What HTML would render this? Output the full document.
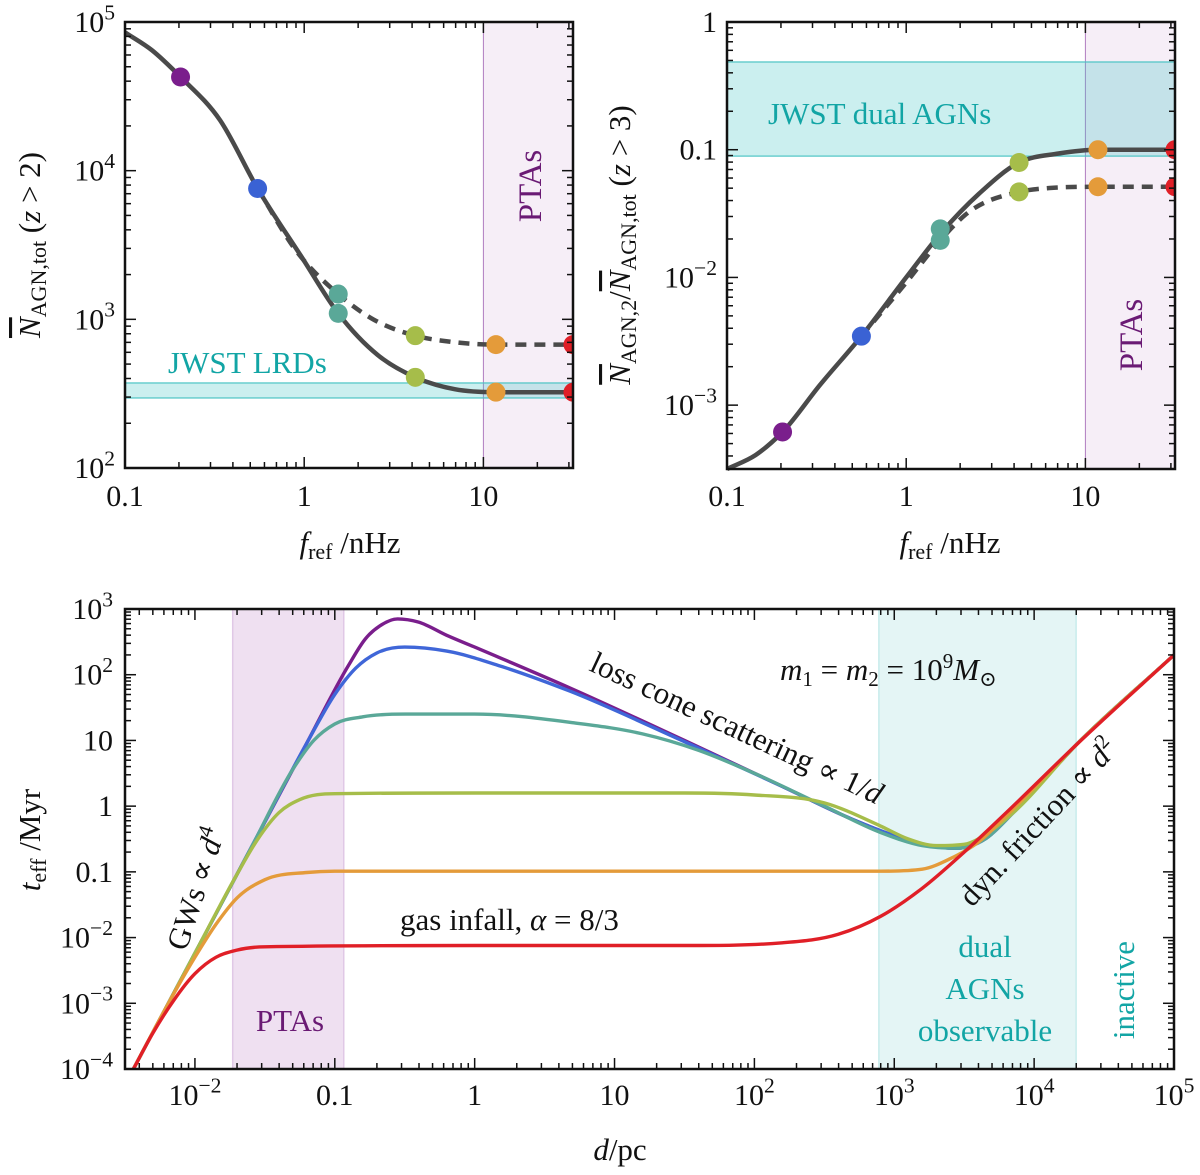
<!DOCTYPE html>
<html><head><meta charset="utf-8">
<style>
html,body{margin:0;padding:0;background:#fff;}
svg{display:block;}
svg text{font-family:"Liberation Serif","DejaVu Serif",serif;}
</style></head>
<body>
<svg id="fig" width="1200" height="1175" viewBox="0 0 1200 1175" xmlns="http://www.w3.org/2000/svg" font-family="Liberation Serif, serif">
<g id="g-top-left"></g>
<g id="g-top-right"></g>
<g id="g-bottom"></g>
</svg>
<script>
// ---------- Top-left data (log10 f/nHz, log10 N) ----------
const tlSolidX = [-1.0,-0.85,-0.69,-0.47,-0.26,-0.02,0.19,0.41,0.62,0.84,1.07,1.5];
const tlSolidY = [4.93,4.81,4.63,4.34,3.88,3.43,3.04,2.76,2.61,2.53,2.51,2.51];
const tlDashX = [-0.26,-0.05,0.19,0.37,0.62,0.81,1.07,1.5];
const tlDashY = [3.88,3.47,3.17,3.01,2.89,2.85,2.83,2.83];
const tlDotX = [-0.69,-0.26,0.19,0.19,0.62,0.62,1.07,1.07,1.5,1.5];
const tlDotY = [4.63,3.88,3.17,3.04,2.89,2.61,2.83,2.51,2.83,2.51];
const tlDotC = ["#7a1e8c","#3a62d4","#5aa898","#5aa898","#a6bd4a","#a6bd4a","#e49b3a","#e49b3a","#e01f27","#e01f27"];
const tlBand = [2.471, 2.572];
const tlYTicks = ["10^2","10^3","10^4","10^5"];
const tlYTickVals = [2,3,4,5];

// ---------- Top-right data ----------
const trSolidX = [-1.0,-0.84,-0.69,-0.48,-0.25,0.0,0.19,0.41,0.63,0.85,1.07,1.5];
const trSolidY = [-3.5,-3.39,-3.21,-2.84,-2.46,-2.0,-1.66,-1.34,-1.10,-1.03,-1.0,-1.0];
const trDashX = [-0.25,0.0,0.19,0.33,0.63,0.8,1.07,1.5];
const trDashY = [-2.46,-2.04,-1.71,-1.51,-1.33,-1.30,-1.29,-1.29];
const trDotX = [-0.69,-0.25,0.19,0.19,0.63,0.63,1.07,1.07,1.5,1.5];
const trDotY = [-3.21,-2.46,-1.62,-1.71,-1.10,-1.33,-1.0,-1.29,-1.0,-1.29];
const trDotC = tlDotC;
const trBand = [-1.05, -0.313];
const trYTicks = ["10^-3","10^-2","0.1","1"];
const trYTickVals = [-3,-2,-1,0];

const topXTicks = ["0.1","1","10"];
const topXTickVals = [-1,0,1];

// ---------- Bottom data (log10 d/pc, log10 t/Myr) ----------
const purpleX = [-2.44,-2.0,-1.6,-1.2,-0.9,-0.78,-0.68,-0.55,-0.4,-0.2,0.0,0.68,1.5,2.2,2.7,3.0,3.2,3.45,3.65,3.85,4.3,5.0];
const purpleY = [-4.0,-2.24,-0.64,0.96,2.15,2.55,2.74,2.85,2.80,2.6,2.42,1.8,1.0,0.3,-0.2,-0.45,-0.58,-0.64,-0.5,-0.1,0.93,2.3];
const blueX = [-2.44,-2.0,-1.6,-1.2,-1.0,-0.85,-0.7,-0.5,-0.2,0.2,0.68,1.5,2.2,2.7,3.0,3.2,3.45,3.65,3.85,4.3,5.0];
const blueY = [-4.0,-2.24,-0.64,0.96,1.7,2.1,2.33,2.42,2.36,2.12,1.75,0.98,0.3,-0.2,-0.45,-0.58,-0.64,-0.5,-0.1,0.93,2.3];
const tealX = [-2.44,-2.0,-1.6,-1.3,-1.15,-1.0,-0.8,-0.5,0.0,0.7,1.2,1.6,2.0,2.5,2.9,3.2,3.45,3.65,3.85,4.3,5.0];
const tealY = [-4.0,-2.24,-0.64,0.56,1.0,1.25,1.36,1.4,1.4,1.27,1.1,0.85,0.5,0.0,-0.4,-0.6,-0.64,-0.5,-0.1,0.93,2.3];
const greenX = [-2.44,-2.0,-1.7,-1.55,-1.4,-1.25,-1.0,0.0,1.5,2.0,2.5,2.9,3.1,3.3,3.5,3.7,3.85,4.3,5.0];
const greenY = [-4.0,-2.24,-1.04,-0.5,-0.1,0.1,0.19,0.2,0.2,0.17,0.05,-0.3,-0.5,-0.6,-0.58,-0.36,-0.1,0.93,2.3];
const orangeX = [-2.44,-2.2,-2.0,-1.85,-1.7,-1.5,-1.2,-1.0,1.0,2.9,3.2,3.4,3.6,3.8,4.3,5.0];
const orangeY = [-4.0,-3.04,-2.3,-1.8,-1.4,-1.12,-1.01,-0.99,-0.99,-0.99,-0.96,-0.8,-0.55,-0.15,0.93,2.3];
const redX = [-2.44,-2.3,-2.15,-2.0,-1.85,-1.7,-1.5,0.0,1.5,2.2,2.6,2.9,3.2,3.5,3.8,4.3,5.0];
const redY = [-4.0,-3.45,-2.95,-2.55,-2.3,-2.19,-2.14,-2.12,-2.12,-2.08,-1.95,-1.68,-1.25,-0.7,-0.1,0.93,2.3];
const botSeriesNames = ["purple","blue","teal","green","orange","red"];
const botXTicks = ["10^-2","0.1","1","10","10^2","10^3","10^4","10^5"];
const botXTickVals = [-2,-1,0,1,2,3,4,5];
const botYTicks = ["10^-4","10^-3","10^-2","0.1","1","10","10^2","10^3"];
const botYTickVals = [-4,-3,-2,-1,0,1,2,3];
const ptaBand = [-1.73,-0.936];
const dualBand = [2.89,4.3];

const NS="http://www.w3.org/2000/svg";
function el(parent,tag,attrs){const e=document.createElementNS(NS,tag);for(const k in attrs)e.setAttribute(k,attrs[k]);parent.appendChild(e);return e;}
function smooth(pts){
  const n=pts.length, sec=[], m=[];
  for(let i=0;i<n-1;i++) sec.push((pts[i+1][1]-pts[i][1])/(pts[i+1][0]-pts[i][0]));
  for(let i=0;i<n;i++){
    if(i==0) m.push(sec[0]);
    else if(i==n-1) m.push(sec[n-2]);
    else {
      const a=sec[i-1],b=sec[i];
      if(a*b<=0) m.push(0);
      else { const h0=pts[i][0]-pts[i-1][0],h1=pts[i+1][0]-pts[i][0]; m.push((a*h1+b*h0)/(h0+h1)); }
    }
  }
  for(let i=0;i<n-1;i++){
    const s=sec[i];
    if(s===0){m[i]=0;m[i+1]=0;continue;}
    const a=m[i]/s,b=m[i+1]/s,h=a*a+b*b;
    if(h>9){const t=3/Math.sqrt(h);m[i]=t*a*s;m[i+1]=t*b*s;}
  }
  let d="M"+pts[0][0].toFixed(1)+","+pts[0][1].toFixed(1);
  for(let i=0;i<n-1;i++){
    const h=pts[i+1][0]-pts[i][0];
    d+=" C"+(pts[i][0]+h/3).toFixed(1)+","+(pts[i][1]+m[i]*h/3).toFixed(1)+" "+(pts[i+1][0]-h/3).toFixed(1)+","+(pts[i+1][1]-m[i+1]*h/3).toFixed(1)+" "+pts[i+1][0].toFixed(1)+","+pts[i+1][1].toFixed(1);
  }
  return d;
}
function tickText(parent,label,x,y,anchor,size){
  const t=el(parent,"text",{x:x,y:y,"text-anchor":anchor,"font-size":size,fill:"#111"});
  
  
  if(label.startsWith("10^")){
    t.appendChild(document.createTextNode("10"));
    const s=el(t,"tspan",{dy:-size*0.42,"font-size":size*0.72});
    s.textContent=label.slice(3).replace("-","\u2212");
  } else t.textContent=label;
  return t;
}
function frame(g,x0,x1,y0,y1,xmin,xmax,ymin,ymax,major,minorX,minorY){
  const sx=v=>x0+(v-xmin)/(xmax-xmin)*(x1-x0);
  const sy=v=>y1-(v-ymin)/(ymax-ymin)*(y1-y0);
  const ticks=el(g,"g",{stroke:"#111","stroke-width":1.5});
  
  
  for(let dd=Math.floor(xmin);dd<=Math.ceil(xmax);dd++){
    for(let m=1;m<=9;m++){
      const v=dd+Math.log10(m); if(v<xmin-1e-6||v>xmax+1e-6)continue;
      const L=m==1?major:minorX;
      el(ticks,"line",{x1:sx(v),x2:sx(v),y1:y1,y2:y1-L});
      el(ticks,"line",{x1:sx(v),x2:sx(v),y1:y0,y2:y0+L});
    }
  }
  for(let dd=Math.floor(ymin);dd<=Math.ceil(ymax);dd++){
    for(let m=1;m<=9;m++){
      const v=dd+Math.log10(m); if(v<ymin-1e-6||v>ymax+1e-6)continue;
      const L=m==1?major:minorY;
      el(ticks,"line",{y1:sy(v),y2:sy(v),x1:x0,x2:x0+L});
      el(ticks,"line",{y1:sy(v),y2:sy(v),x1:x1,x2:x1-L});
    }
  }
  const r=el(g,"rect",{x:x0,y:y0,width:x1-x0,height:y1-y0,fill:"none",stroke:"#111","stroke-width":2.5});
  
  
  return [sx,sy];
}

function topPanel(gid,x0,x1,y0,y1,ymin,ymax,band,solidX,solidY,dashX,dashY,dotX,dotY,dotC,yT,yTV){
  const g=document.getElementById(gid);
  const sx=v=>x0+(v+1)/2.5*(x1-x0);
  const sy=v=>y1-(v-ymin)/(ymax-ymin)*(y1-y0);
  const pta=el(g,"rect",{x:sx(1),y:y0,width:x1-sx(1),height:y1-y0,fill:"#f6eef7"});
  
  
  const ptaL=el(g,"line",{x1:sx(1),x2:sx(1),y1:y0,y2:y1,stroke:"#b07cc0","stroke-width":1});
  
  
  const jb=el(g,"rect",{x:x0,y:sy(band[1]),width:x1-x0,height:sy(band[0])-sy(band[1]),fill:"rgba(64,196,196,0.27)",stroke:"#4cc4c4","stroke-width":1.2});
  
  
  const ds=el(g,"path",{d:smooth(dashX.map((v,i)=>[sx(v),sy(dashY[i])])),fill:"none",stroke:"#4a4a4a","stroke-width":4.5,"stroke-dasharray":"11,8","stroke-linejoin":"round"});
  
  
  const so=el(g,"path",{d:smooth(solidX.map((v,i)=>[sx(v),sy(solidY[i])])),fill:"none",stroke:"#4a4a4a","stroke-width":4.5,"stroke-linejoin":"round"});
  
  
  const clip=el(g,"clipPath",{id:gid+"-clip"});
  el(clip,"rect",{x:x0,y:y0-10,width:x1-x0+1,height:y1-y0+20});
  const dots=el(g,"g",{"clip-path":"url(#"+gid+"-clip)"});
  dotX.forEach((v,i)=>{
    const c=el(dots,"circle",{cx:sx(v),cy:sy(dotY[i]),r:9.5,fill:dotC[i]});
    
    
  });
  frame(g,x0,x1,y0,y1,-1,1.5,ymin,ymax,11,6,6);
  topXTickVals.forEach((v,i)=>tickText(g,topXTicks[i],sx(v),506,"middle",30));
  yTV.forEach((v,i)=>tickText(g,yT[i],x0-10,sy(v)+10,"end",30));
  return [sx,sy];
}
topPanel("g-top-left",125,573,22,468,2,5,tlBand,tlSolidX,tlSolidY,tlDashX,tlDashY,tlDotX,tlDotY,tlDotC,tlYTicks,tlYTickVals);
topPanel("g-top-right",727,1175,22,469,-3.5,0,trBand,trSolidX,trSolidY,trDashX,trDashY,trDotX,trDotY,trDotC,trYTicks,trYTickVals);
</script>
<script>
(function(){
const gl=document.getElementById("g-top-left");
const gr=document.getElementById("g-top-right");
function txt(g,name,x,y,s,fill,content,extra){const t=document.createElementNS(NS,"text");t.setAttribute("x",x);t.setAttribute("y",y);t.setAttribute("font-size",s);t.setAttribute("fill",fill);for(const k in (extra||{}))t.setAttribute(k,extra[k]);t.innerHTML=content;


g.appendChild(t);return t;}
txt(gl,"band-label-jwst-lrds",168,373,31,"#12a5a5","JWST LRDs");
txt(gl,"band-label-ptas",0,0,33,"#6a1a74","PTAs",{transform:"translate(541,186) rotate(-90)","text-anchor":"middle"});
txt(gr,"band-label-jwst-dual",768,124,31,"#12a5a5","JWST dual AGNs");
txt(gr,"band-label-ptas",0,0,33,"#6a1a74","PTAs",{transform:"translate(1142,335) rotate(-90)","text-anchor":"middle"});
txt(gl,"x-axis-title",350,553,31,"#111",'<tspan font-style="italic">f</tspan><tspan font-size="22" dy="6">ref</tspan><tspan dy="-6"> /nHz</tspan>',{"text-anchor":"middle"});
txt(gr,"x-axis-title",950,553,31,"#111",'<tspan font-style="italic">f</tspan><tspan font-size="22" dy="6">ref</tspan><tspan dy="-6"> /nHz</tspan>',{"text-anchor":"middle"});
txt(gl,"y-axis-title",0,0,31,"#111",'<tspan font-style="italic" text-decoration="overline">N</tspan><tspan font-size="22" dy="6">AGN,tot</tspan><tspan dy="-6">  (</tspan><tspan font-style="italic">z</tspan><tspan> &gt; 2)</tspan>',{transform:"translate(40,245) rotate(-90)","text-anchor":"middle"});
txt(gr,"y-axis-title",0,0,31,"#111",'<tspan font-style="italic" text-decoration="overline">N</tspan><tspan font-size="22" dy="6">AGN,2</tspan><tspan dy="-6">/</tspan><tspan font-style="italic" text-decoration="overline">N</tspan><tspan font-size="22" dy="6">AGN,tot</tspan><tspan dy="-6">  (</tspan><tspan font-style="italic">z</tspan><tspan> &gt; 3)</tspan>',{transform:"translate(630,245) rotate(-90)","text-anchor":"middle"});

const g=document.getElementById("g-bottom");
const x0=125,x1=1174,y0=609,y1=1069;
const sx=v=>x0+(v+2.5)/7.5*(x1-x0);
const sy=v=>y1-(v+4)/7*(y1-y0);
function rect(name,a,b,fill,stroke){const r=document.createElementNS(NS,"rect");r.setAttribute("x",sx(a));r.setAttribute("y",y0);r.setAttribute("width",sx(b)-sx(a));r.setAttribute("height",y1-y0);r.setAttribute("fill",fill);r.setAttribute("stroke",stroke);r.setAttribute("stroke-width",1.5);


g.appendChild(r);}
rect("pta-band",ptaBand[0],ptaBand[1],"#efe0f1","#e0c8e6");
rect("dual-agn-band",dualBand[0],dualBand[1],"#e4f5f5","#c8ecec");
const seriesX=[purpleX,blueX,tealX,greenX,orangeX,redX];
const seriesY=[purpleY,blueY,tealY,greenY,orangeY,redY];
const cols=["#7a1e8c","#3f66d8","#5aa898","#a6bd4a","#e49b3a","#e01f27"];
const clip=document.createElementNS(NS,"clipPath");clip.setAttribute("id","bclip");
const cr=document.createElementNS(NS,"rect");cr.setAttribute("x",x0);cr.setAttribute("y",y0);cr.setAttribute("width",x1-x0);cr.setAttribute("height",y1-y0);clip.appendChild(cr);g.appendChild(clip);
const cg=document.createElementNS(NS,"g");cg.setAttribute("clip-path","url(#bclip)");g.appendChild(cg);
seriesX.forEach((xs,k)=>{
  const p=document.createElementNS(NS,"path");
  p.setAttribute("d",smooth(xs.map((v,i)=>[sx(v),sy(seriesY[k][i])])));
  p.setAttribute("fill","none");p.setAttribute("stroke",cols[k]);p.setAttribute("stroke-width",3.4);
  
  
  cg.appendChild(p);
});
frame(g,x0,x1,y0,y1,-2.5,5,-4,3,11,6,6);
botXTickVals.forEach((v,i)=>tickText(g,botXTicks[i],sx(v),1105,"middle",30));
botYTickVals.forEach((v,i)=>tickText(g,botYTicks[i],x0-12,sy(v)+10,"end",30));
txt(g,"x-axis-title",620,1160,31,"#111",'<tspan font-style="italic">d</tspan>/pc',{"text-anchor":"middle"});
txt(g,"y-axis-title",0,0,31,"#111",'<tspan font-style="italic">t</tspan><tspan font-size="22" dy="6">eff</tspan><tspan dy="-6"> /Myr</tspan>',{transform:"translate(40,840) rotate(-90)","text-anchor":"middle"});
txt(g,"label-loss-cone",0,0,31,"#111",'loss cone scattering ∝ 1/<tspan font-style="italic">d</tspan>',{transform:"translate(588,670) rotate(25)"});
txt(g,"label-masses",780,680,31,"#111",'<tspan font-style="italic">m</tspan><tspan font-size="21" dy="6">1</tspan><tspan dy="-6"> = </tspan><tspan font-style="italic">m</tspan><tspan font-size="21" dy="6">2</tspan><tspan dy="-6"> = 10</tspan><tspan font-size="21" dy="-12">9</tspan><tspan dy="12" font-style="italic">M</tspan><tspan font-size="21" dy="6">⊙</tspan>');
txt(g,"label-dyn-friction",0,0,31,"#111",'dyn. friction ∝ <tspan font-style="italic">d</tspan><tspan font-size="21" dy="-12">2</tspan>',{transform:"translate(972,908) rotate(-47)"});
txt(g,"label-gws",0,0,31,"#111",'GWs ∝ <tspan font-style="italic">d</tspan><tspan font-size="21" dy="-12">4</tspan>',{transform:"translate(186,952) rotate(-72)"});
txt(g,"label-gas-infall",400,930,31,"#111",'gas infall, <tspan font-style="italic">α</tspan> = 8/3');
txt(g,"label-ptas",290,1031,31,"#6a1a74","PTAs",{"text-anchor":"middle"});
txt(g,"label-dual-1",985,957,31,"#12a5a5","dual",{"text-anchor":"middle"});
txt(g,"label-dual-2",985,999,31,"#12a5a5","AGNs",{"text-anchor":"middle"});
txt(g,"label-dual-3",985,1041,31,"#12a5a5","observable",{"text-anchor":"middle"});
txt(g,"label-inactive",0,0,31,"#12a5a5","inactive",{transform:"translate(1134,990) rotate(-90)","text-anchor":"middle"});
})();
</script>
</body></html>
